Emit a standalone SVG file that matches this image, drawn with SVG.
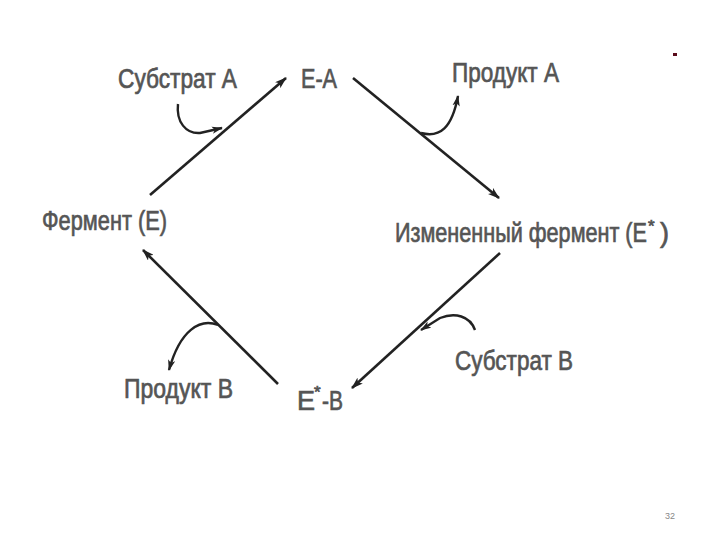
<svg xmlns="http://www.w3.org/2000/svg" width="720" height="540" viewBox="0 0 720 540">
<defs>
<marker id="ah" viewBox="0 0 12 8" refX="11" refY="4" markerWidth="12" markerHeight="8" markerUnits="userSpaceOnUse" orient="auto">
<path d="M0,0 L12,4 L0,8 L3,4 Z" fill="#222"/>
</marker>
<marker id="ahs" viewBox="0 0 12 8" refX="11" refY="4" markerWidth="11" markerHeight="8" markerUnits="userSpaceOnUse" orient="auto">
<path d="M0,0 L12,4 L0,8 L3,4 Z" fill="#222"/>
</marker>
<style>
.t{font-family:"Liberation Sans Narrow","Liberation Sans",Arial,sans-serif;font-size:27px;fill:#555;stroke:#555;stroke-width:0.7px;}
.sup{font-size:17px;}
.ln{stroke:#222;stroke-width:2.6;fill:none;marker-end:url(#ah);}
.cv{stroke:#222;stroke-width:2.4;fill:none;marker-end:url(#ahs);}
.pg{font-family:"Liberation Sans",Arial,sans-serif;font-size:9px;fill:#888;}
</style>
</defs>
<rect width="720" height="540" fill="#fff"/>
<g id="connectors">
<path class="ln" d="M150,195 L286,78"/>
<path class="ln" d="M353,78 L499,198"/>
<path class="ln" d="M500,253 L352,388"/>
<path class="ln" d="M278,384 L143,250"/>
<path class="cv" d="M178,104 C176,122 186,134 200,133 L222,128"/>
<path class="cv" d="M421,133 C440,138 452,128 458,96"/>
<path class="cv" d="M475,330 C470,316 455,312 440,318 L421,330"/>
<path class="cv" d="M218,325 C200,318 180,330 169,370"/>
</g>
<g id="substrate-a"><text class="t" x="118" y="88" textLength="119" lengthAdjust="spacingAndGlyphs">Субстрат А</text></g>
<g id="e-a"><text class="t" x="301" y="88" textLength="36" lengthAdjust="spacingAndGlyphs">Е-А</text></g>
<g id="product-a"><text class="t" x="452" y="82" textLength="107" lengthAdjust="spacingAndGlyphs">Продукт А</text></g>
<g id="enzyme"><text class="t" x="42" y="230" textLength="125" lengthAdjust="spacingAndGlyphs">Фермент (Е)</text></g>
<g id="modified-enzyme"><text class="t"><tspan x="395" y="242" textLength="252" lengthAdjust="spacingAndGlyphs">Измененный фермент (Е</tspan><tspan class="sup" x="648" y="232">*</tspan><tspan x="660" y="242">)</tspan></text></g>
<g id="substrate-b"><text class="t" x="455" y="370" textLength="118" lengthAdjust="spacingAndGlyphs">Субстрат В</text></g>
<g id="product-b"><text class="t" x="124" y="398" textLength="109" lengthAdjust="spacingAndGlyphs">Продукт В</text></g>
<g id="e-star-b"><text class="t"><tspan x="297" y="410">Е</tspan><tspan class="sup" x="314" y="398">*</tspan><tspan x="322" y="410" textLength="21" lengthAdjust="spacingAndGlyphs">-В</tspan></text></g>
<rect x="673" y="53" width="4" height="3" fill="#5a0a1a"/>
<text class="pg" x="665" y="519">32</text>
</svg>
